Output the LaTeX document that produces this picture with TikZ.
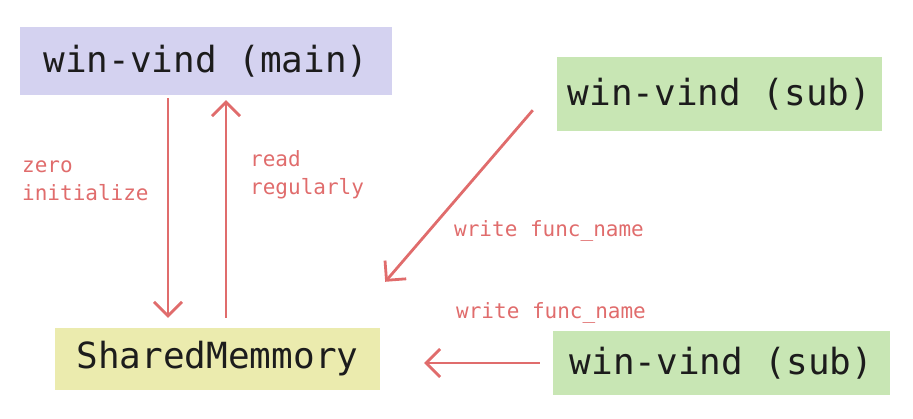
\documentclass[tikz,border=0pt]{standalone}
\usepackage{fontspec}
\setmonofont{DejaVu Sans Mono}
\usetikzlibrary{arrows.meta}

\definecolor{boxmain}{RGB}{212,210,240}
\definecolor{boxsub}{RGB}{200,230,180}
\definecolor{boxshm}{RGB}{235,235,174}
\definecolor{flowred}{RGB}{224,108,108}
\definecolor{inkdark}{RGB}{28,28,28}

\tikzset{
  proc/.style={fill=#1, inner sep=0pt, text=inkdark, font=\ttfamily\fontsize{36}{40}\selectfont},
  flow/.style={draw=flowred, line width=2.8pt, -{Straight Barb[length=14pt,width=28pt]}},
  note/.style={anchor=base west, inner sep=0pt, text=flowred, align=left, font=\ttfamily\fontsize{21}{28}\selectfont},
}

\begin{document}
\begin{tikzpicture}[x=1pt,y=1pt,yscale=-1]
\useasboundingbox (0,0) rectangle (913,419);

% Boxes
\node [proc=boxmain, minimum width=372pt, minimum height=68pt] (main) at (206,61) {win-vind (main)};
\node [proc=boxsub, minimum width=325pt, minimum height=74pt] (subA) at (719.5,94) {win-vind (sub)};
\node [proc=boxshm, minimum width=325pt, minimum height=62pt] (shm) at (217.5,359) {SharedMemmory};
\node [proc=boxsub, minimum width=337pt, minimum height=64pt] (subB) at (721.5,363) {win-vind (sub)};

% Straight Lines
\draw [flow, shorten <=3pt, shorten >=10pt] ([xshift=-38pt]main.south) -- ([xshift=-38pt]main.south |- shm.north);
\draw [flow, shorten <=10pt, shorten >=5pt] ([xshift=20pt]main.south |- shm.north) -- ([xshift=20pt]main.south);
\draw [flow] ([xshift=-24pt,yshift=-21pt]subA.south west) -- ([xshift=5pt,yshift=-46pt]shm.north east);
\draw [flow, shorten <=13pt, shorten >=44pt] (subB.west) -- (subB.west -| shm.east);

% Text Node
\node [note] (zeroinit) at (22,201) {zero\\initialize};
\node [note] (readreg) at (250,195) {read\\regularly};
\node [note] (writeA) at (454,237) {write func\_name};
\node [note] (writeB) at (456,319) {write func\_name};

\end{tikzpicture}
\end{document}
